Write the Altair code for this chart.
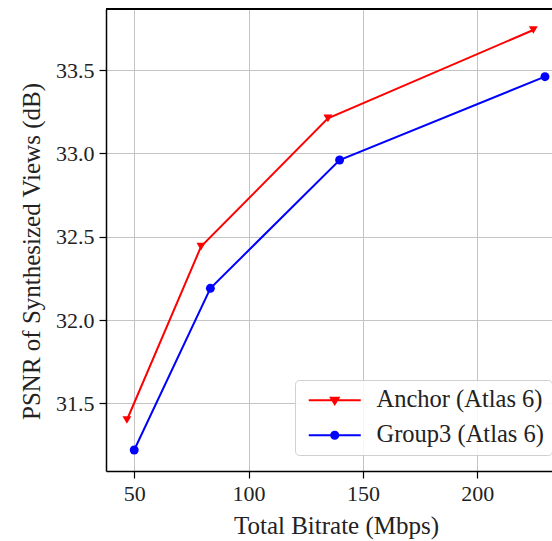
import altair as alt
import pandas as pd

# Rate-distortion points read per series
series_names = ["Anchor (Atlas 6)", "Group3 (Atlas 6)"]
anchor_bitrate = [46.8, 79.2, 134.7, 224.5]
anchor_psnr = [31.40, 32.44, 33.21, 33.74]
group3_bitrate = [50.0, 83.3, 139.8, 229.6]
group3_psnr = [31.22, 32.19, 32.96, 33.46]

x_ticks = [50, 100, 150, 200]
y_ticks = [31.5, 32.0, 32.5, 33.0, 33.5]

colors = ["#ff0000", "#0000ff"]
marker_shapes = ["triangle-down", "circle"]
# legend glyphs: a short line segment with the series marker in its middle
legend_glyphs = [
    "M-1,0L7,0M2.4,-0.4L3.6,-0.4L3,0.6Z",
    "M-1,0L7,0M2.45,0A0.55,0.55 0 1,0 3.55,0A0.55,0.55 0 1,0 2.45,0Z",
]

rows = []
for b, p in zip(anchor_bitrate, anchor_psnr):
    rows.append({"bitrate": b, "psnr": p, "series": series_names[0]})
for b, p in zip(group3_bitrate, group3_psnr):
    rows.append({"bitrate": b, "psnr": p, "series": series_names[1]})
df = pd.DataFrame(rows)

W, H = 446, 462
FONT = "'Liberation Serif', 'Times New Roman', 'DejaVu Serif', serif"

x_enc = alt.X(
    "bitrate:Q",
    scale=alt.Scale(domain=[37.66, 232.67], nice=False, zero=False),
    axis=alt.Axis(values=x_ticks, title="Total Bitrate (Mbps)", format="d",
                  titleX=230, titleY=62, titleBaseline="alphabetic"),
)
y_enc = alt.Y(
    "psnr:Q",
    scale=alt.Scale(domain=[31.094, 33.866], nice=False, zero=False),
    axis=alt.Axis(values=y_ticks, title="PSNR of Synthesized Views (dB)", format=".1f",
                  titleX=-67, titleY=242, titleBaseline="alphabetic", titleAlign="center"),
)
col_scale = alt.Scale(domain=series_names, range=colors)

base = alt.Chart(df)

lines = base.mark_line(strokeWidth=2, clip=True).encode(
    x=x_enc, y=y_enc,
    color=alt.Color("series:N", scale=col_scale, legend=None),
    detail="series:N",
)

points = base.mark_point(filled=True, opacity=1, size=80, clip=True).encode(
    x=x_enc, y=y_enc,
    color=alt.Color("series:N", scale=col_scale, legend=None),
    shape=alt.Shape("series:N", scale=alt.Scale(domain=series_names, range=marker_shapes), legend=None),
)

legend_layer = base.mark_point(opacity=1).encode(
    x=x_enc, y=y_enc,
    fill=alt.Fill("series:N", scale=col_scale,
                  legend=alt.Legend(title=None, orient="none", legendX=189, legendY=371,
                                    symbolSize=169, symbolStrokeWidth=2, labelOffset=49,
                                    labelFont=FONT, labelFontSize=24.5, labelColor="#222222",
                                    labelLimit=400, padding=8, rowPadding=10,
                                    fillColor="rgba(255,255,255,0.85)", strokeColor="#d0d0d0",
                                    cornerRadius=4)),
    stroke=alt.Stroke("series:N", scale=col_scale),
    shape=alt.Shape("series:N", scale=alt.Scale(domain=series_names, range=legend_glyphs)),
).transform_filter("false")

top_frame = alt.Chart(df).mark_rule(color="black", strokeWidth=1.5).encode(
    x=alt.value(0), x2=alt.value(W), y=alt.value(0)
)

chart = (
    alt.layer(lines, points, legend_layer, top_frame)
    .resolve_scale(shape="independent", color="independent", fill="independent", stroke="independent")
    .properties(
        width=W, height=H,
        autosize=alt.AutoSizeParams(type="none"),
        padding={"left": 106, "top": 9, "right": 0, "bottom": 70},
        background="white",
    )
    .configure_view(stroke=None)
    .configure_axis(
        labelFont=FONT, titleFont=FONT, labelFontSize=22, titleFontSize=25,
        labelColor="#222222", titleColor="#222222", titleFontWeight="normal",
        domainColor="black", domainWidth=1.5, tickColor="black", tickWidth=1.2, tickSize=7,
        gridColor="#c4c4c4", gridWidth=1, labelPadding=5,
    )
)

chart.save("out.html", embed_options={"renderer": "svg", "actions": False})
